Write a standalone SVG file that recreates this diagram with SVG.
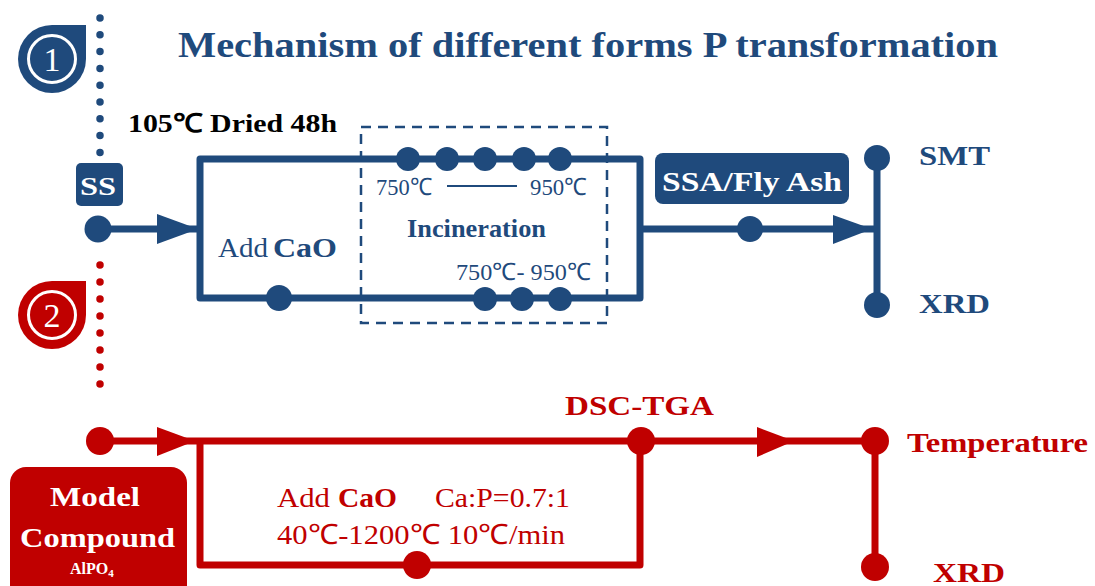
<svg xmlns="http://www.w3.org/2000/svg" width="1095" height="586" viewBox="0 0 1095 586">
<style>
.b{fill:#1F4A7C}
.r{fill:#C00000}
.w{fill:#fff}
text{font-family:'Liberation Serif','Times New Roman',Tinos,serif}
.bd{font-weight:bold}
.bl{stroke:#1F4A7C;stroke-width:7;fill:none;stroke-linejoin:round}
.rl{stroke:#C00000;stroke-width:7;fill:none;stroke-linejoin:round}
</style>
<rect width="1095" height="586" fill="#fff"/>

<!-- dotted guides -->
<line x1="100" y1="18" x2="100" y2="153" stroke="#1F4A7C" stroke-width="7.5" stroke-linecap="round" stroke-dasharray="0 16.8"/>
<line x1="100" y1="265" x2="100" y2="401" stroke="#C00000" stroke-width="7.5" stroke-linecap="round" stroke-dasharray="0 17"/>

<!-- badges -->
<g id="badge1">
<path class="b" d="M52,25 H86 V59 A34,34 0 1,1 52,25 Z"/>
<circle cx="52" cy="59" r="23.5" fill="none" stroke="#fff" stroke-width="3"/>
<text x="52" y="71" text-anchor="middle" font-size="34" class="w">1</text>
</g>
<g id="badge2">
<path class="r" d="M52,281 H86 V315 A34,34 0 1,1 52,281 Z"/>
<circle cx="52" cy="315" r="23.5" fill="none" stroke="#fff" stroke-width="3"/>
<text x="52" y="327" text-anchor="middle" font-size="34" class="w">2</text>
</g>

<text x="178" y="57" class="bd b" font-size="35" textLength="820" lengthAdjust="spacingAndGlyphs">Mechanism of different forms P transformation</text>

<!-- connectors -->
<g id="connectors">
<rect x="361" y="127" width="246" height="196" fill="none" stroke="#1F4A7C" stroke-width="2.5" stroke-dasharray="10 7"/>
<line class="bl" x1="98" y1="229" x2="200" y2="229"/>
<polygon class="b" points="157,214 198,229 157,244"/>
<path class="bl" d="M200,159 H640 V298 H200 Z"/>
<line class="bl" x1="640" y1="229" x2="877" y2="229"/>
<polygon class="b" points="833,215 872,229 833,244"/>
<line class="bl" x1="877" y1="158" x2="877" y2="305"/>
<line x1="447" y1="186" x2="517" y2="186" stroke="#1F4A7C" stroke-width="2"/>

<line class="rl" x1="100" y1="441" x2="875" y2="441"/>
<polygon class="r" points="157,427 195,441 157,456"/>
<polygon class="r" points="757,427 794,441 757,457"/>
<path class="rl" d="M200,441 V565 H640 V441"/>
<line class="rl" x1="875" y1="441" x2="875" y2="567"/>
</g>

<!-- blue dots -->
<g id="blue-dots" class="b">
<circle cx="98" cy="229" r="13.5"/>
<circle cx="408" cy="159" r="12"/>
<circle cx="447" cy="159" r="12"/>
<circle cx="485" cy="159" r="12"/>
<circle cx="524" cy="159" r="12"/>
<circle cx="560" cy="159" r="12"/>
<circle cx="279" cy="298" r="13"/>
<circle cx="485" cy="299" r="12"/>
<circle cx="522" cy="299" r="12"/>
<circle cx="560" cy="299" r="12"/>
<circle cx="750" cy="229" r="13"/>
<circle cx="877" cy="158" r="13"/>
<circle cx="877" cy="305" r="13"/>
</g>
<g id="red-dots" class="r">
<circle cx="100" cy="441" r="14"/>
<circle cx="641" cy="441" r="14"/>
<circle cx="417" cy="565" r="14"/>
<circle cx="875" cy="441" r="14"/>
<circle cx="875" cy="567" r="14"/>
</g>

<g id="ss">
<rect x="76" y="163" width="47" height="43" rx="5" class="b"/>
<text x="80" y="195" class="bd w" font-size="26" textLength="36" lengthAdjust="spacingAndGlyphs">SS</text>
</g>
<text x="128" y="132" class="bd" font-size="26" fill="#000" textLength="209" lengthAdjust="spacingAndGlyphs">105℃ Dried 48h</text>

<g id="addcao-blue">
<text x="218" y="257" class="b" font-size="28" textLength="50" lengthAdjust="spacingAndGlyphs">Add</text>
<text x="273" y="257" class="bd b" font-size="28" textLength="64" lengthAdjust="spacingAndGlyphs">CaO</text>
</g>

<g id="incineration">
<text x="376" y="195" class="b" font-size="24" textLength="56" lengthAdjust="spacingAndGlyphs">750℃</text>
<text x="530" y="195" class="b" font-size="24" textLength="57" lengthAdjust="spacingAndGlyphs">950℃</text>
<text x="407" y="237" class="bd b" font-size="25" textLength="139" lengthAdjust="spacingAndGlyphs">Incineration</text>
<text x="456" y="280" class="b" font-size="24" textLength="135" lengthAdjust="spacingAndGlyphs">750℃- 950℃</text>
</g>

<g id="ssa">
<rect x="655" y="153" width="194" height="51" rx="8" class="b"/>
<text x="662" y="191" class="bd w" font-size="28" textLength="180" lengthAdjust="spacingAndGlyphs">SSA/Fly Ash</text>
</g>
<g id="smt"><text x="919" y="165" class="bd b" font-size="28" textLength="71" lengthAdjust="spacingAndGlyphs">SMT</text></g>
<g id="xrd1"><text x="919" y="313" class="bd b" font-size="28" textLength="71" lengthAdjust="spacingAndGlyphs">XRD</text></g>

<g id="model">
<rect x="10" y="467" width="177" height="135" rx="16" class="r"/>
<text x="50" y="506" class="bd w" font-size="28" textLength="90" lengthAdjust="spacingAndGlyphs">Model</text>
<text x="20" y="547" class="bd w" font-size="28" textLength="155" lengthAdjust="spacingAndGlyphs">Compound</text>
<text x="70" y="574" class="bd w" font-size="16">AlPO<tspan font-size="11" dy="3">4</tspan></text>
</g>

<g id="dsc"><text x="565" y="415" class="bd r" font-size="28" textLength="149" lengthAdjust="spacingAndGlyphs">DSC-TGA</text></g>
<g id="temp"><text x="907" y="452" class="bd r" font-size="28" textLength="181" lengthAdjust="spacingAndGlyphs">Temperature</text></g>
<g id="xrd2"><text x="933" y="582" class="bd r" font-size="28" textLength="72" lengthAdjust="spacingAndGlyphs">XRD</text></g>

<g id="addcao-red">
<text x="277" y="507" class="r" font-size="28" textLength="53" lengthAdjust="spacingAndGlyphs">Add</text>
<text x="338" y="507" class="bd r" font-size="28" textLength="59" lengthAdjust="spacingAndGlyphs">CaO</text>
<text x="435" y="507" class="r" font-size="28" textLength="135" lengthAdjust="spacingAndGlyphs">Ca:P=0.7:1</text>
<text x="277" y="544" class="r" font-size="28" textLength="288" lengthAdjust="spacingAndGlyphs">40℃-1200℃ 10℃/min</text>
</g>
</svg>
